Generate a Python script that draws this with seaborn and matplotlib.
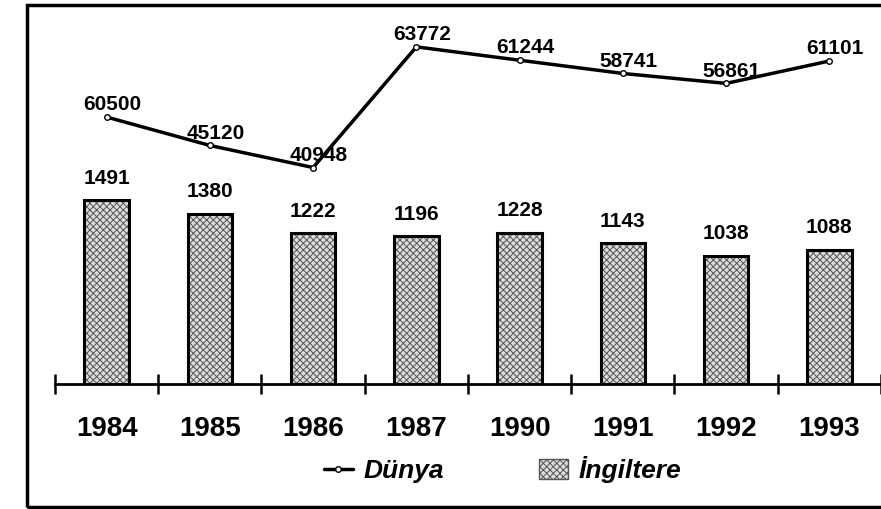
import numpy as np
import pandas as pd
import matplotlib
matplotlib.use("Agg")
import matplotlib.pyplot as plt
import seaborn as sns
from matplotlib.lines import Line2D
from matplotlib.patches import Patch, Rectangle

# datos
yillar = ["1984", "1985", "1986", "1987", "1990", "1991", "1992", "1993"]
ingiltere = [1491, 1380, 1222, 1196, 1228, 1143, 1038, 1088]
dunya = [50500, 45120, 40948, 63772, 61244, 58741, 56861, 61101]
dunya_etiket = ["60500", "45120", "40948", "63772", "61244", "58741", "56861", "61101"]

df = pd.DataFrame({"Yil": yillar, "Ingiltere": ingiltere, "Dunya": dunya})

sns.set_style("white")
plt.rcParams["font.family"] = ["Liberation Sans", "DejaVu Sans"]
plt.rcParams["hatch.linewidth"] = 0.7
plt.rcParams["text.color"] = "black"
plt.rcParams["xtick.color"] = "black"

fig = plt.figure(figsize=(8.81, 5.09), dpi=100)
ax = fig.add_axes([0.0624, 0.2456, 0.9376, 0.727])

# barras con trama
sns.barplot(data=df, x="Yil", y="Ingiltere", ax=ax, color="#dcdcdc",
            edgecolor="#555555", linewidth=0.5, hatch="xxxxx", width=0.43,
            saturation=1)
sns.barplot(data=df, x="Yil", y="Ingiltere", ax=ax, fill=False,
            edgecolor="black", linewidth=2.2, width=0.43)
ax.bar_label(ax.containers[0], labels=[str(v) for v in ingiltere], padding=9,
             fontsize=15, fontweight="bold")
ax.set_ylim(0, 3000)
ax.set_xlim(-0.5, 7.5)

# linea secundaria
ax2 = ax.twinx()
sns.lineplot(x=np.arange(len(yillar)), y=df["Dunya"], ax=ax2, color="black",
             linewidth=2.5, marker="o", markersize=4, markerfacecolor="white",
             markeredgecolor="black", markeredgewidth=1)
for i, (v, t) in enumerate(zip(dunya, dunya_etiket)):
    ax2.annotate(t, (i, v), xytext=(4, 2), textcoords="offset points",
                 ha="center", va="bottom", fontsize=15, fontweight="bold")
ax2.set_ylim(0, 70000)

for a in (ax, ax2):
    a.set_ylabel("")
    a.set_yticks([])
    for s in ["top", "right", "left"]:
        a.spines[s].set_visible(False)
ax2.spines["bottom"].set_visible(False)
ax.spines["bottom"].set_linewidth(2)
ax.spines["bottom"].set_color("black")
ax.set_xlabel("")

ax.tick_params(axis="x", which="major", length=0, pad=23, labelsize=20)
for lab in ax.get_xticklabels():
    lab.set_fontweight("bold")
ax.set_xticks(np.arange(-0.5, 8.0, 1), minor=True)
ax.tick_params(axis="x", which="minor", bottom=True, direction="inout",
               length=14, width=1.8, color="black")

# leyenda
handles = [
    Line2D([0], [0], color="black", linewidth=2.5, marker="o", markersize=4,
           markerfacecolor="white", markeredgecolor="black"),
    Patch(facecolor="#dcdcdc", edgecolor="#555555", hatch="xxxxx"),
]
fig.legend(handles, ["Dünya", "İngiltere"], loc="center",
           bbox_to_anchor=(0.57, 0.077), ncol=2, frameon=False,
           handlelength=1.1, handleheight=0.8, columnspacing=3.6, handletextpad=0.4,
           prop={"weight": "bold", "style": "italic", "size": 19})

# marco
fig.patches.append(Rectangle((0.031, 0.004), 0.99, 0.986, transform=fig.transFigure,
                             fill=False, edgecolor="black", linewidth=2.5))

fig.savefig("out.png", dpi=100)
